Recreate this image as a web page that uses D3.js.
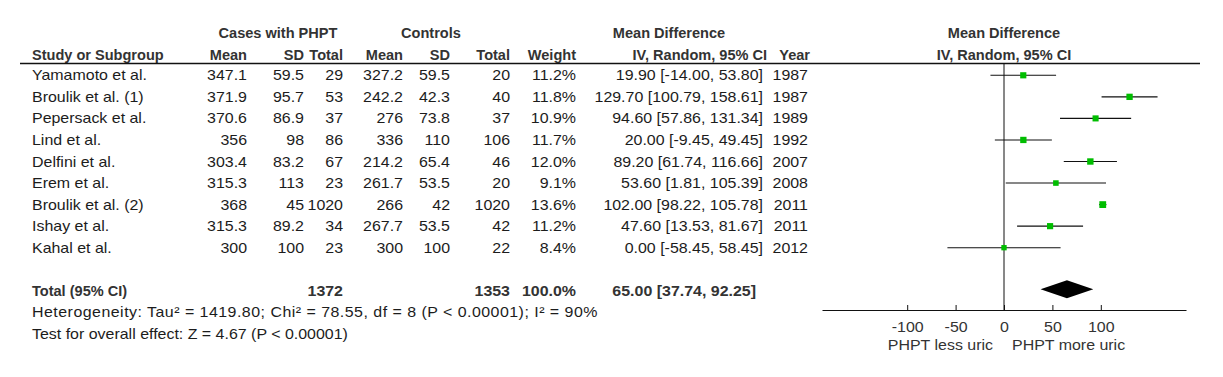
<!DOCTYPE html>
<html>
<head>
<meta charset="utf-8">
<script src="https://cdn.jsdelivr.net/npm/d3@7"></script>
<style>
  body { margin: 0; background: #fff; }
  svg { display: block; font-family: "Liberation Sans", Arial, sans-serif; }
</style>
</head>
<body>
<svg id="chart" width="1223" height="377"></svg>
<script>
// study-level data
const studies = ['Yamamoto et al.', 'Broulik et al. (1)', 'Pepersack et al.', 'Lind et al.', 'Delfini et al.', 'Erem et al.', 'Broulik et al. (2)', 'Ishay et al.', 'Kahal et al.'];
const caseMean = ['347.1', '371.9', '370.6', '356', '303.4', '315.3', '368', '315.3', '300'];
const caseSD = ['59.5', '95.7', '86.9', '98', '83.2', '113', '45', '89.2', '100'];
const caseN = [29, 53, 37, 86, 67, 23, 1020, 34, 23];
const ctrlMean = ['327.2', '242.2', '276', '336', '214.2', '261.7', '266', '267.7', '300'];
const ctrlSD = ['59.5', '42.3', '73.8', '110', '65.4', '53.5', '42', '53.5', '100'];
const ctrlN = [20, 40, 37, 106, 46, 20, 1020, 42, 22];
const weights = [11.2, 11.8, 10.9, 11.7, 12.0, 9.1, 13.6, 11.2, 8.4];
const meanDiff = [19.90, 129.70, 94.60, 20.00, 89.20, 53.60, 102.00, 47.60, 0.00];
const ciLow = [-14.00, 100.79, 57.86, -9.45, 61.74, 1.81, 98.22, 13.53, -58.45];
const ciHigh = [53.80, 158.61, 131.34, 49.45, 116.66, 105.39, 105.78, 81.67, 58.45];
const years = [1987, 1987, 1989, 1992, 2007, 2008, 2011, 2011, 2012];

const totalCases = 1372;
const totalControls = 1353;
const pooled = { md: 65.00, lo: 37.74, hi: 92.25 };
const heterogeneity = 'Heterogeneity: Tau² = 1419.80; Chi² = 78.55, df = 8 (P < 0.00001); I² = 90%';
const overallTest = 'Test for overall effect: Z = 4.67 (P < 0.00001)';
const tickValues = [-100, -50, 0, 50, 100];

const svg = d3.select('#chart');
const SX = 1.14;   // the source image is stretched horizontally a bit
const SXB = 1.04;  // bold headers are less so
const FS = 14;
const ink = '#1c1c1c';
const headInk = '#333';

// small helper: aligned text with the horizontal stretch
function txt(x, y, s, anchor = 'start', bold = false, color = ink) {
  return svg.append('text')
    .attr('transform', `translate(${x},${y}) scale(${bold ? SXB : SX},1)`)
    .attr('text-anchor', anchor)
    .attr('fill', bold ? headInk : color)
    .style('font-size', FS + 'px')
    .style('font-weight', bold ? 'bold' : 'normal')
    .text(s);
}

// column right edges
const col = { name: 32, cMean: 247, cSD: 304, cN: 343, kMean: 403, kSD: 450, kN: 510, w: 576, ci: 763, yr: 808 };

const rowY = d3.scaleLinear().domain([0, 1]).range([75.3, 96.85]);
const base = 5; // baseline offset from row centre

// headers
txt(278, 38, 'Cases with PHPT', 'middle', true);
txt(431, 38, 'Controls', 'middle', true);
txt(669, 38, 'Mean Difference', 'middle', true);
txt(col.name, 60, 'Study or Subgroup', 'start', true);
txt(col.cMean, 60, 'Mean', 'end', true);
txt(col.cSD, 60, 'SD', 'end', true);
txt(col.cN, 60, 'Total', 'end', true);
txt(col.kMean, 60, 'Mean', 'end', true);
txt(col.kSD, 60, 'SD', 'end', true);
txt(col.kN, 60, 'Total', 'end', true);
txt(col.w, 60, 'Weight', 'end', true);
txt(col.ci + 4, 60, 'IV, Random, 95% CI', 'end', true);
txt(col.yr + 2, 60, 'Year', 'end', true);

const x = d3.scaleLinear().domain([-188, 188]).range([822, 1186]);
txt(x(0), 38, 'Mean Difference', 'middle', true);
txt(x(0), 60, 'IV, Random, 95% CI', 'middle', true);

svg.append('line').attr('x1', 20).attr('x2', 1200).attr('y1', 63.5).attr('y2', 63.5)
  .attr('stroke', '#111').attr('stroke-width', 1.3);

const f2 = v => v.toFixed(2);
studies.forEach((s, i) => {
  const y = rowY(i) + base;
  txt(col.name, y, s);
  txt(col.cMean, y, caseMean[i], 'end');
  txt(col.cSD, y, caseSD[i], 'end');
  txt(col.cN, y, caseN[i], 'end');
  txt(col.kMean, y, ctrlMean[i], 'end');
  txt(col.kSD, y, ctrlSD[i], 'end');
  txt(col.kN, y, ctrlN[i], 'end');
  txt(col.w, y, weights[i].toFixed(1) + '%', 'end');
  txt(col.ci, y, `${f2(meanDiff[i])} [${f2(ciLow[i])}, ${f2(ciHigh[i])}]`, 'end');
  txt(col.yr, y, years[i], 'end');
});

// totals
const ty = rowY(10) + base;
txt(col.name, ty, 'Total (95% CI)', 'start', true);
svg.append('text')
  .attr('transform', `translate(${col.ci - 7},${ty}) scale(${SX},1)`)
  .attr('text-anchor', 'end').attr('fill', headInk)
  .style('font-size', FS + 'px').style('font-weight', 'bold')
  .text(`${f2(pooled.md)} [${f2(pooled.lo)}, ${f2(pooled.hi)}]`);
[[col.cN, totalCases], [col.kN, totalControls], [col.w, '100.0%']].forEach(([cx, v]) => {
  svg.append('text')
    .attr('transform', `translate(${cx},${ty}) scale(${SX},1)`)
    .attr('text-anchor', 'end').attr('fill', headInk)
    .style('font-size', FS + 'px').style('font-weight', 'bold')
    .text(v);
});
txt(col.name, rowY(11) + base, heterogeneity).attr('textLength', 496);
txt(col.name, rowY(12) + base, overallTest);

// forest plot
const axisY = 310;
svg.append('line').attr('x1', x(0)).attr('x2', x(0)).attr('y1', 63.5).attr('y2', axisY)
  .attr('stroke', '#111').attr('stroke-width', 1);

const boxSize = d3.scaleSqrt().domain([0, 13.6]).range([0, 6.8]);
const rows = svg.append('g').selectAll('g').data(studies).join('g');
rows.append('line')
  .attr('x1', (d, i) => x(ciLow[i])).attr('x2', (d, i) => x(ciHigh[i]))
  .attr('y1', (d, i) => rowY(i)).attr('y2', (d, i) => rowY(i))
  .attr('stroke', '#111').attr('stroke-width', 1.1);
rows.append('rect')
  .attr('x', (d, i) => x(meanDiff[i]) - boxSize(weights[i]) / 2)
  .attr('y', (d, i) => rowY(i) - boxSize(weights[i]) / 2)
  .attr('width', (d, i) => boxSize(weights[i]))
  .attr('height', (d, i) => boxSize(weights[i]))
  .attr('fill', '#00bd00');

const dy = 289.3;
svg.append('path')
  .attr('d', `M${x(pooled.lo)},${dy}L${x(pooled.md)},${dy - 9}L${x(pooled.hi)},${dy}L${x(pooled.md)},${dy + 9}Z`)
  .attr('fill', '#000');

const axis = d3.axisBottom(x).tickValues(tickValues).tickFormat(d => String(d))
  .tickSizeInner(-5).tickSizeOuter(0).tickPadding(12);
const ag = svg.append('g').attr('transform', `translate(0,${axisY})`).call(axis);
ag.select('.domain').attr('stroke', '#111').attr('stroke-width', 1.2);
ag.selectAll('.tick line').attr('stroke', '#111');
ag.selectAll('.tick text')
  .attr('fill', headInk).style('font-size', FS + 'px')
  .attr('font-family', null)
  .attr('transform', `scale(${SX},1)`);

txt(x(0) - 11, 350, 'PHPT less uric', 'end', false, headInk);
txt(x(0) + 8, 350, 'PHPT more uric', 'start', false, headInk);
</script>
</body>
</html>
